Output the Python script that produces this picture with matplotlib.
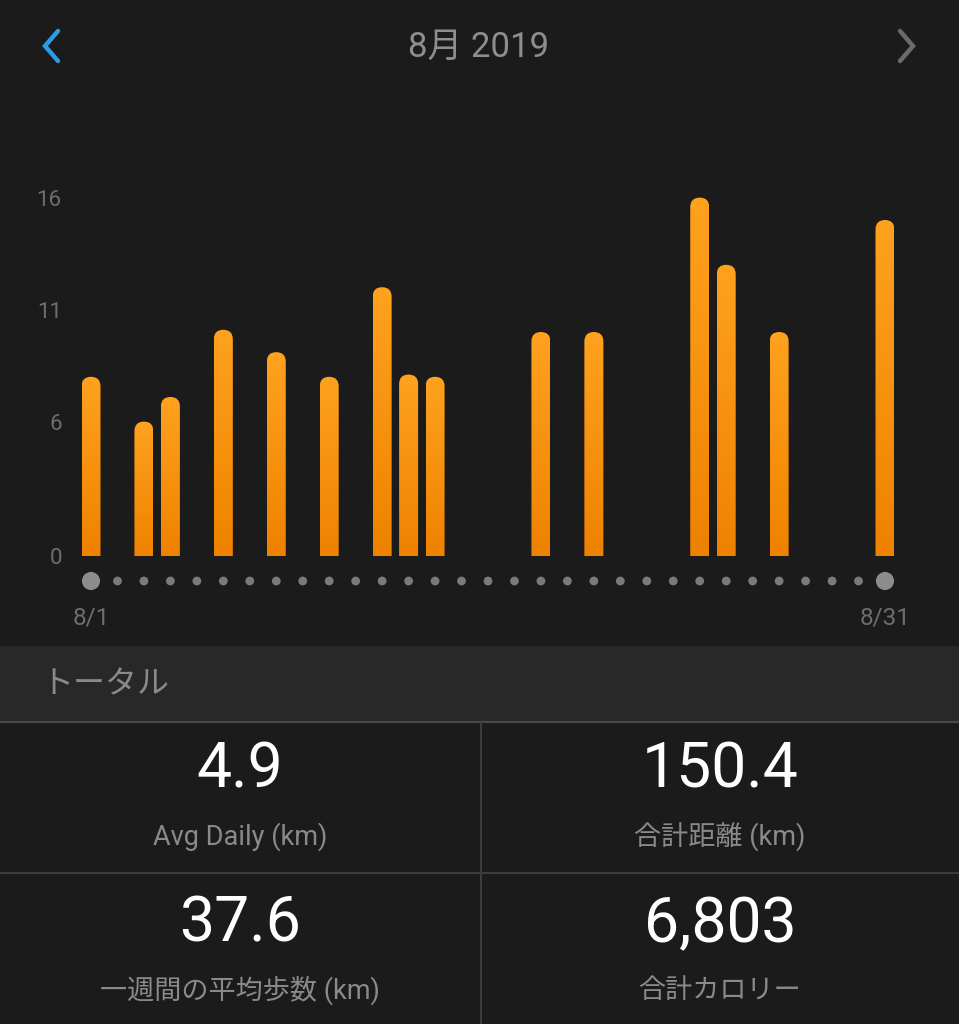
import numpy as np
import matplotlib
matplotlib.use("Agg")
import matplotlib.pyplot as plt
from matplotlib.patches import FancyBboxPatch, Rectangle
from matplotlib.lines import Line2D
from matplotlib.colors import LinearSegmentedColormap

plt.rcParams['font.family'] = ['Roboto', 'Noto Sans CJK JP', 'DejaVu Sans']

# daily distance (km), August 2019
days = list(range(1, 32))
dist = [8.0, 0, 6.0, 7.1, 0, 10.1, 0, 9.1, 0, 8.0, 0, 12.0, 8.1, 8.0, 0,
        0, 0, 10.0, 0, 10.0, 0, 0, 0, 16.0, 13.0, 0, 10.0, 0, 0, 0, 15.0]
yticks = [0, 6, 11, 16]
xtick_days = [1, 31]
xtick_labels = ['8/1', '8/31']

title = '8月 2019'
section = 'トータル'
stat_values = ['4.9', '150.4', '37.6', '6,803']
stat_labels = ['Avg Daily (km)', '合計距離 (km)', '一週間の平均歩数 (km)', '合計カロリー']

BG = '#1b1b1b'
BAND = '#282828'
LINE = '#3c3c3c'
W, H = 959, 1024

fig = plt.figure(figsize=(W / 100, H / 100), dpi=100, facecolor=BG)


def fx(x):
    return x / W


def fy(y):
    return 1 - y / H


# header
fig.text(fx(479), fy(47), title, color='#8e8e8e', fontsize=25,
         ha='center', va='center')
fig.add_artist(Line2D([fx(58), fx(45), fx(58)], [fy(31), fy(46), fy(61)],
                      color='#2a9de6', lw=3.2, solid_capstyle='round',
                      solid_joinstyle='miter'))
fig.add_artist(Line2D([fx(900), fx(913), fx(900)], [fy(31), fy(46), fy(61)],
                      color='#6b6b6b', lw=3.2, solid_capstyle='round',
                      solid_joinstyle='miter'))

# chart axes: day 1 at x=91px, day 31 at x=885px, 0 at y=556px
px_day = (885 - 91) / 30
px_unit = 22.4
ymax = 17
left = 91 - px_day / 2
ax = fig.add_axes([fx(left), fy(556), px_day * 31 / W, px_unit * ymax / H])
ax.set_facecolor('none')
for s in ax.spines.values():
    s.set_visible(False)

bar_w = 19 / px_day
asp = px_day / px_unit
grad = np.linspace(0, 1, 256).reshape(-1, 1)
cmap = LinearSegmentedColormap.from_list('bar', ['#ee8200', '#ffa21e'])

for d, v in zip(days, dist):
    if v <= 0:
        continue
    patch = FancyBboxPatch((d - bar_w / 2, -1), bar_w, v + 1,
                           boxstyle=f"round,pad=0,rounding_size={bar_w / 2}",
                           mutation_aspect=asp, fc='none', ec='none')
    ax.add_patch(patch)
    im = ax.imshow(grad, extent=(d - bar_w / 2, d + bar_w / 2, 0, v),
                   origin='lower', cmap=cmap, aspect='auto', zorder=2)
    im.set_clip_path(patch)

# day dots
dot_y = -25 / px_unit
sizes = [170 if d in (days[0], days[-1]) else 40 for d in days]
colors = ['#8c8c8c' if d in (days[0], days[-1]) else '#7a7a7a' for d in days]
ax.scatter(days, [dot_y] * len(days), s=sizes, c=colors, lw=0, clip_on=False)

ax.set_xlim(0.5, 31.5)
ax.set_ylim(0, ymax)
ax.set_yticks(yticks)
ax.set_yticklabels([str(t) for t in yticks])
ax.set_xticks(xtick_days)
ax.set_xticklabels(xtick_labels)
ax.tick_params(axis='y', length=0, pad=11.5, labelsize=16, labelcolor='#6e6e6e')
ax.tick_params(axis='x', length=0, pad=36, labelsize=17.5, labelcolor='#6e6e6e')

# totals band
fig.add_artist(Rectangle((0, fy(722)), 1, (722 - 646) / H, transform=fig.transFigure,
                         fc=BAND, ec='none', zorder=0))
fig.add_artist(Line2D([0, 1], [fy(722), fy(722)], color='#484848', lw=1.6))
fig.text(fx(41), fy(685), section, color='#8a8a8a', fontsize=23,
         ha='left', va='center')

# stats grid
fig.add_artist(Line2D([fx(481), fx(481)], [fy(723), 0], color=LINE, lw=1.5))
fig.add_artist(Line2D([0, 1], [fy(873), fy(873)], color=LINE, lw=1.5))

centers_x = [240, 720, 240, 720]
value_y = [771, 771, 925, 925]
label_y = [837, 837, 990, 990]
for val, lab, cx, vy, ly in zip(stat_values, stat_labels, centers_x, value_y, label_y):
    fig.text(fx(cx), fy(vy), val, color='white', fontsize=45,
             ha='center', va='center')
    fig.text(fx(cx), fy(ly), lab, color='#8a8a8a', fontsize=19.5,
             ha='center', va='center')

fig.savefig('out.png', dpi=100, facecolor=BG)
